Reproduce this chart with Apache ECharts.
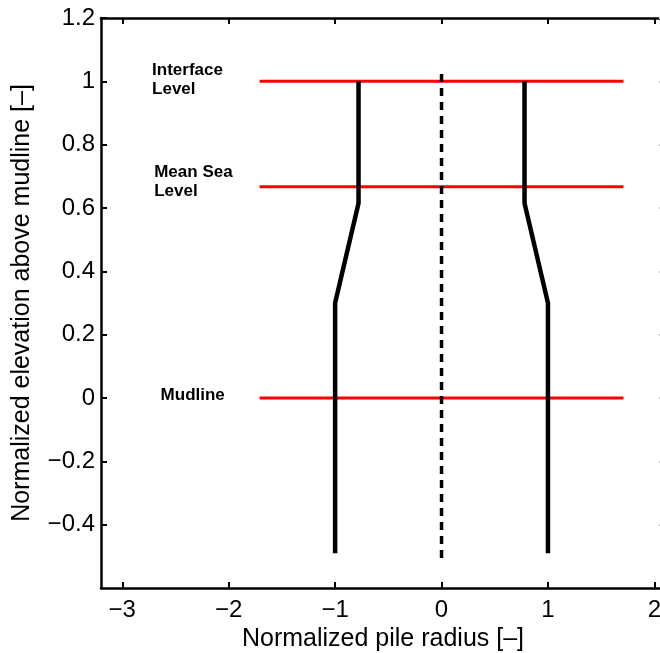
<!DOCTYPE html>
<html>
<head>
<meta charset="utf-8">
<script src="https://cdn.jsdelivr.net/npm/echarts@6.0.0/dist/echarts.min.js"></script>
<style>
html,body{margin:0;padding:0;background:#fff;}
#chart{width:660px;height:653px;}
</style>
</head>
<body>
<div id="chart"></div>
<script>
// ---- data ----
var xTicks = [-3, -2, -1, 0, 1, 2];
var yTicks = [-0.4, -0.2, 0, 0.2, 0.4, 0.6, 0.8, 1, 1.2];
var pileLeft = [[-1, -0.49], [-1, 0.30], [-0.78, 0.615], [-0.78, 1.0]];
var pileRight = [[1, -0.49], [1, 0.30], [0.78, 0.615], [0.78, 1.0]];
var centerLine = [[0, -0.505], [0, 1.035]];
var levelNames = ['Interface\nLevel', 'Mean Sea\nLevel', 'Mudline'];
var levelY = [1.0, 0.667, 0.0];
var levelXStart = -1.71;
var levelXEnd = 1.71;
var labelPos = [[-2.72, 1.005], [-2.70, 0.683], [-2.64, 0.01]];

function fmt(v) {
  var s = String(Math.round(v * 10) / 10);
  return s.replace('-', '\u2212');
}

var series = [];
levelY.forEach(function (y) {
  series.push({
    type: 'line', data: [[levelXStart, y], [levelXEnd, y]],
    symbol: 'none', lineStyle: { color: '#ff0000', width: 3 }, z: 2, silent: true
  });
});
series.push({
  type: 'line', data: centerLine, symbol: 'none',
  lineStyle: { color: '#000', width: 3.5, type: [8, 6] }, z: 3, silent: true
});
[pileLeft, pileRight].forEach(function (d) {
  series.push({
    type: 'line', data: d, symbol: 'none',
    lineStyle: { color: '#000', width: 4.5, join: 'miter' }, z: 4, silent: true
  });
});
series.push({
  type: 'scatter', symbolSize: 0, z: 5, silent: true,
  itemStyle: { opacity: 1 },
  data: labelPos.map(function (p, i) { return { value: p, name: levelNames[i] }; }),
  label: {
    show: true, position: 'right', distance: 0,
    formatter: function (p) { return p.name; },
    fontFamily: 'Liberation Sans', fontWeight: 'bold', fontSize: 17,
    lineHeight: 19, color: '#000', opacity: 1, align: 'left', verticalAlign: 'middle'
  }
});

var tickFont = { fontFamily: 'Liberation Sans', fontSize: 24, color: '#000' };
var nameFont = { fontFamily: 'Liberation Sans', fontSize: 25, color: '#000' };
var yNameFont = { fontFamily: 'Liberation Sans', fontSize: 25, color: '#000' };
var chart = echarts.init(document.getElementById('chart'), null, { renderer: 'canvas' });
chart.setOption({
  animation: false,
  backgroundColor: '#fff',
  grid: { left: 101, top: 18, width: 564, height: 570, containLabel: false, outerBoundsMode: 'none' },
  xAxis: [{
    type: 'value', min: -3.2, max: 2.1, position: 'bottom',
    name: 'Normalized pile radius [\u2013]', nameLocation: 'middle', nameGap: 34,
    nameTextStyle: nameFont,
    axisLine: { show: true, onZero: false, lineStyle: { color: '#000', width: 2.5 } },
    axisTick: { show: true, inside: true, length: 6, customValues: xTicks, lineStyle: { color: '#000', width: 2 } },
    axisLabel: Object.assign({ show: true, margin: 10, customValues: xTicks, formatter: fmt }, tickFont),
    splitLine: { show: false }
  }, {
    type: 'value', min: -3.2, max: 2.1, position: 'top',
    axisLine: { show: true, onZero: false, lineStyle: { color: '#000', width: 2.5 } },
    axisTick: { show: true, inside: true, length: 6, customValues: xTicks, lineStyle: { color: '#000', width: 2 } },
    axisLabel: { show: false }, splitLine: { show: false }
  }],
  yAxis: [{
    type: 'value', min: -0.6, max: 1.2, position: 'left',
    name: 'Normalized elevation above mudline [\u2013]', nameLocation: 'middle', nameGap: 66,
    nameTextStyle: yNameFont,
    axisLine: { show: true, onZero: false, lineStyle: { color: '#000', width: 2.5 } },
    axisTick: { show: true, inside: true, length: 6, customValues: yTicks, lineStyle: { color: '#000', width: 2 } },
    axisLabel: Object.assign({ show: true, margin: 6, customValues: yTicks, formatter: fmt }, tickFont),
    splitLine: { show: false }
  }, {
    type: 'value', min: -0.6, max: 1.2, position: 'right',
    axisLine: { show: true, onZero: false, lineStyle: { color: '#000', width: 2.5 } },
    axisTick: { show: true, inside: true, length: 6, customValues: yTicks, lineStyle: { color: '#ccc', width: 2 } },
    axisLabel: { show: false }, splitLine: { show: false }
  }],
  series: series
});
</script>
</body>
</html>
